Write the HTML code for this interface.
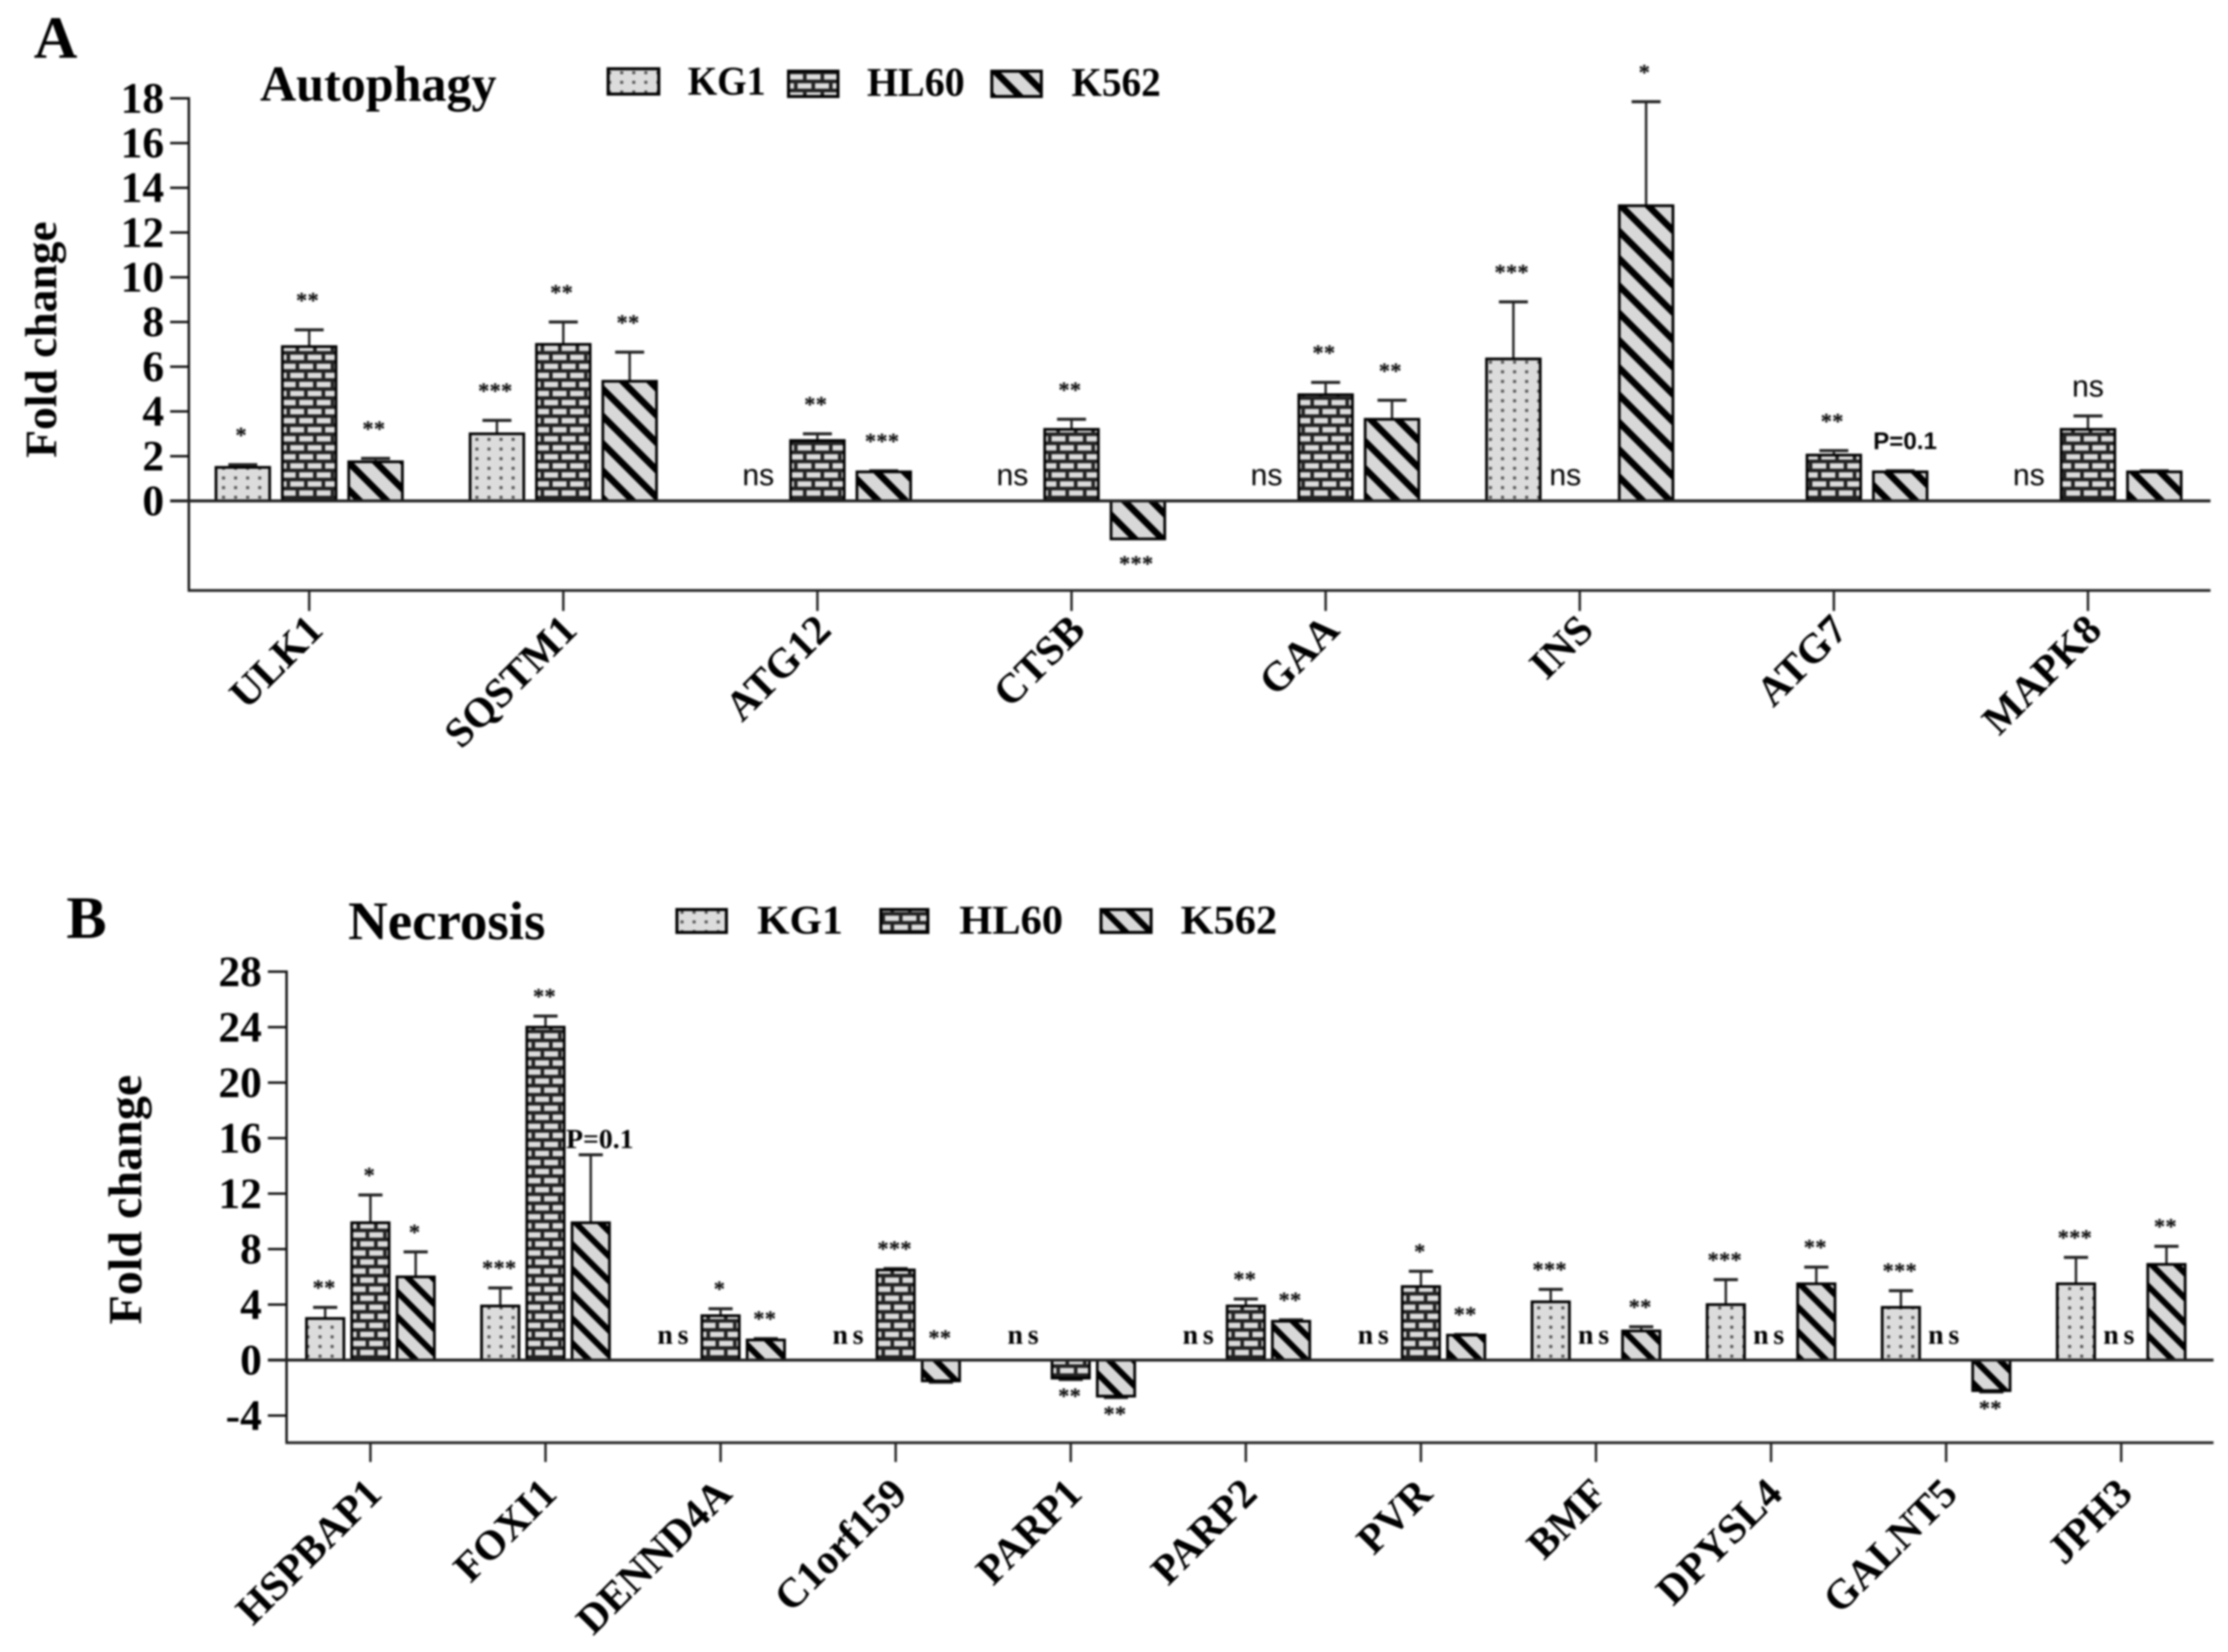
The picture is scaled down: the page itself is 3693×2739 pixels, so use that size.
<!DOCTYPE html>
<html lang="en">
<head>
<meta charset="utf-8">
<title>Autophagy and Necrosis fold change</title>
<style>
html,body{margin:0;padding:0;background:#fff;width:3693px;height:2739px;overflow:hidden}
svg{display:block;filter:blur(1.5px)}
text{font-family:"Liberation Serif",serif;font-weight:bold;fill:#000}
.sans{font-family:"Liberation Sans",sans-serif}
</style>
</head>
<body>
<svg id="figure" xmlns="http://www.w3.org/2000/svg" width="3693" height="2739" viewBox="0 0 3693 2739">
<defs>
<pattern id="dots" width="20" height="16" patternUnits="userSpaceOnUse">
<rect width="20" height="16" fill="#dcdcdc"/>
<rect x="8" y="6" width="5" height="5" fill="#555"/>
</pattern>
<pattern id="brick" width="29" height="30" patternUnits="userSpaceOnUse">
<rect width="29" height="30" fill="#222"/>
<rect x="3" y="3" width="23" height="9" fill="#dcdcdc"/>
<rect x="0" y="18" width="11" height="9" fill="#dcdcdc"/>
<rect x="17" y="18" width="12" height="9" fill="#dcdcdc"/>
</pattern>
<pattern id="stripeA" width="32" height="32" patternUnits="userSpaceOnUse" patternTransform="rotate(45)">
<rect width="32" height="32" fill="#d8d8d8"/>
<rect x="0" y="0" width="32" height="11" fill="#000"/>
</pattern>
<pattern id="stripeB" width="29" height="29" patternUnits="userSpaceOnUse" patternTransform="rotate(45)">
<rect width="29" height="29" fill="#d8d8d8"/>
<rect x="0" y="0" width="29" height="10" fill="#000"/>
</pattern>
</defs>
<rect width="3693" height="2739" fill="#fff"/>

<text x="56" y="96" font-size="100">A</text>
<text x="431" y="167" font-size="84" textLength="392" lengthAdjust="spacingAndGlyphs">Autophagy</text>
<text x="93" y="955" transform="rotate(-90 93 563)" font-size="74"><tspan x="93" y="563" text-anchor="middle" textLength="392" lengthAdjust="spacingAndGlyphs">Fold change</tspan></text>

<rect x="1008" y="114" width="84" height="42" fill="url(#dots)" stroke="#000" stroke-width="5"/>
<text x="1140" y="157" font-size="68" textLength="129" lengthAdjust="spacingAndGlyphs">KG1</text>
<rect x="1307" y="118" width="82" height="42" fill="url(#brick)" stroke="#000" stroke-width="5"/>
<text x="1437" y="159" font-size="68" textLength="162" lengthAdjust="spacingAndGlyphs">HL60</text>
<rect x="1644" y="118" width="82" height="42" fill="url(#stripeA)" stroke="#000" stroke-width="5"/>
<text x="1776" y="159" font-size="68" textLength="148" lengthAdjust="spacingAndGlyphs">K562</text>

<text x="110" y="1555" font-size="100">B</text>
<text x="577" y="1557" font-size="90" textLength="327" lengthAdjust="spacingAndGlyphs">Necrosis</text>
<text font-size="78" transform="rotate(-90 234 1989)"><tspan x="234" y="1989" text-anchor="middle" textLength="414" lengthAdjust="spacingAndGlyphs">Fold change</tspan></text>

<rect x="1122" y="1508" width="82" height="38" fill="url(#dots)" stroke="#000" stroke-width="5"/>
<text x="1255" y="1548" font-size="68" textLength="142" lengthAdjust="spacingAndGlyphs">KG1</text>
<rect x="1460" y="1508" width="78" height="38" fill="url(#brick)" stroke="#000" stroke-width="5"/>
<text x="1590" y="1548" font-size="68" textLength="172" lengthAdjust="spacingAndGlyphs">HL60</text>
<rect x="1825" y="1508" width="83" height="38" fill="url(#stripeB)" stroke="#000" stroke-width="5"/>
<text x="1957" y="1548" font-size="68" textLength="160" lengthAdjust="spacingAndGlyphs">K562</text>
</svg>

<script>
// Panel A data
const genesA = ['ULK1','SQSTM1','ATG12','CTSB','GAA','INS','ATG7','MAPK8'];
const ticksA = [0,2,4,6,8,10,12,14,16,18];
const kg1A  = [1.5,3.0,null,null,null,6.35,null,null];
const hl60A = [6.9,7.0,2.7,3.2,4.75,null,2.05,3.2];
const k562A = [1.75,5.35,1.3,-1.7,3.65,13.2,1.3,1.3];
const kg1ErrA  = [0.12,0.6,0,0,0,2.55,0,0];
const hl60ErrA = [0.75,1.0,0.3,0.45,0.55,0,0.2,0.6];
const k562ErrA = [0.15,1.3,0.05,0,0.85,4.65,0.05,0.05];
const kg1SigA  = ['*','***','ns','ns','ns','***','',  'ns'];
const hl60SigA = ['**','**','**','**','**','ns','**','ns'];
const k562SigA = ['**','**','***','***','**','*','P=0.1',''];

// Panel B data
const genesB = ['HSPBAP1','FOXI1','DENND4A','C1orf159','PARP1','PARP2','PVR','BMF','DPYSL4','GALNT5','JPH3'];
const ticksB = [-4,0,4,8,12,16,20,24,28];
const kg1B  = [3.0,3.9,null,null,null,null,null,4.2,4.0,3.8,5.5];
const hl60B = [9.9,24.0,3.2,6.5,-1.3,3.9,5.3,null,null,null,null];
const k562B = [6.0,9.9,1.45,-1.5,-2.6,2.8,1.8,2.1,5.5,-2.2,6.9];
const kg1ErrB  = [0.8,1.3,0,0,0,0,0,0.9,1.8,1.2,1.9];
const hl60ErrB = [2.0,0.8,0.5,0.1,0.1,0.5,1.1,0,0,0,0];
const k562ErrB = [1.8,4.9,0.1,0.1,0.1,0.1,0.05,0.3,1.2,0.1,1.3];
const kg1SigB  = ['**','***','ns','ns','ns','ns','ns','***','***','***','***'];
const hl60SigB = ['*','**','*','***','**','**','*','ns','ns','ns','ns'];
const k562SigB = ['*','P=0.1','**','^**','**','**','**','**','**','**','**'];

const NS = 'http://www.w3.org/2000/svg';
const svg = document.getElementById('figure');

function mk(tag, attrs, parent){
  const el = document.createElementNS(NS, tag);
  for (const k in attrs) el.setAttribute(k, attrs[k]);
  parent.appendChild(el);
  return el;
}

function drawPanel(cfg){
  const g = mk('g', {}, svg);
  
  
  const y = v => cfg.y0 - v * cfg.unit;
  const x = i => cfg.x0 + i * cfg.step;

  // y axis + ticks
  const yAxis = mk('line', {x1:cfg.axisX, x2:cfg.axisX, y1:y(cfg.ticks[cfg.ticks.length-1])-2, y2:cfg.bottom+2, stroke:'#111', 'stroke-width':4}, g);
  
  
  cfg.ticks.forEach(t => {
    const tk = mk('line', {x1:cfg.axisX-cfg.tickLen, x2:cfg.axisX, y1:y(t), y2:y(t), stroke:'#111', 'stroke-width':4}, g);
    
    
    const lb = mk('text', {x:cfg.axisX-cfg.tickLen-10, y:y(t)+cfg.tickFont*0.33, 'text-anchor':'end', 'font-size':cfg.tickFont}, g);
    lb.textContent = String(t);
    
    
  });

  // bars
  const slots = [
    {key:'kg1',  vals:cfg.kg1,  errs:cfg.kg1Err,  sig:cfg.kg1Sig,  off:-cfg.offset, fill:'url(#dots)',  nsShift:cfg.nsShift},
    {key:'hl60', vals:cfg.hl60, errs:cfg.hl60Err, sig:cfg.hl60Sig, off:0,           fill:'url(#brick)', nsShift:cfg.nsMidShift},
    {key:'k562', vals:cfg.k562, errs:cfg.k562Err, sig:cfg.k562Sig, off:cfg.offset,  fill:cfg.stripe,    nsShift:0}
  ];
  slots.forEach(s => {
    cfg.genes.forEach((gene, i) => {
      const cx = x(i) + s.off;
      const v = s.vals[i];
      const e = s.errs[i];
      if (v !== null) {
        const tipV = v >= 0 ? v + e : v - e;
        if (e > 0) {
          const st = mk('line', {x1:cx, x2:cx, y1:y(v), y2:y(tipV), stroke:'#222', 'stroke-width':4}, g);
          
          
          const cap = mk('line', {x1:cx-cfg.cap, x2:cx+cfg.cap, y1:y(tipV), y2:y(tipV), stroke:'#222', 'stroke-width':5}, g);
          
          
        }
        const top = Math.min(y(v), y(0));
        const h = Math.abs(y(v) - y(0));
        const bar = mk('rect', {x:cx-cfg.barW/2, y:top, width:cfg.barW, height:h, fill:s.fill, stroke:'#000', 'stroke-width':4.5}, g);
        
        
      }
      const label = s.sig[i];
      if (!label) return;
      const tipVal = v === null ? 0 : (v >= 0 ? v + e : v - e);
      let t;
      if (label === 'ns') {
        const ly = v === null ? y(0) - cfg.nsLift : y(tipVal) - cfg.nsTopLift;
        t = mk('text', {x:cx + (v === null ? s.nsShift : 0), y:ly, 'text-anchor':'middle', 'font-size':cfg.nsFont, 'letter-spacing':cfg.nsSpace, 'class':cfg.nsClass, style:'font-weight:' + cfg.nsWeight}, g);
        t.textContent = 'ns';
      } else if (label === 'P=0.1') {
        t = mk('text', {x:cx + cfg.pShift, y:y(tipVal) - cfg.pLift, 'text-anchor':'middle', 'font-size':cfg.pFont, 'class':cfg.pClass}, g);
        t.textContent = label;
      } else {
        const up = label.charAt(0) === '^';
        const txt = up ? label.slice(1) : label;
        let cy;
        if (up) cy = y(0) - cfg.starBaseLift;
        else if (v < 0) cy = y(tipVal) + cfg.starBelow;
        else cy = y(tipVal) - cfg.starGap;
        t = mk('text', {x:cx + cfg.starShift, y:cy + cfg.starFont*0.36, 'text-anchor':'middle', 'font-size':cfg.starFont}, g);
        t.textContent = txt;
      }
      
      
    });
  });

  // zero line + x axis + ticks
  const zero = mk('line', {x1:cfg.axisX-cfg.tickLen, x2:cfg.right, y1:y(0), y2:y(0), stroke:'#222', 'stroke-width':5}, g);
  
  
  const xAxis = mk('line', {x1:cfg.axisX-2, x2:cfg.right, y1:cfg.bottom, y2:cfg.bottom, stroke:'#222', 'stroke-width':4.5}, g);
  
  
  cfg.genes.forEach((gene, i) => {
    const tk = mk('line', {x1:x(i), x2:x(i), y1:cfg.bottom, y2:cfg.bottom+cfg.xTick, stroke:'#222', 'stroke-width':4}, g);
    
    
    const lx = x(i) + cfg.labelDx, ly = cfg.bottom + cfg.labelDy;
    const lb = mk('text', {x:lx, y:ly, 'text-anchor':'end', 'font-size':cfg.labelFont, transform:'rotate(-45 ' + lx + ' ' + ly + ')'}, g);
    lb.textContent = gene;
    
    
  });
}

drawPanel({
  name:'autophagy-chart', genes:genesA, ticks:ticksA,
  kg1:kg1A, hl60:hl60A, k562:k562A, kg1Err:kg1ErrA, hl60Err:hl60ErrA, k562Err:k562ErrA,
  kg1Sig:kg1SigA, hl60Sig:hl60SigA, k562Sig:k562SigA,
  y0:830.5, unit:37.08, x0:512.5, step:421.2, axisX:313, tickLen:31, tickFont:72,
  bottom:979, right:3664, xTick:34, offset:110, barW:89, cap:24, stripe:'url(#stripeA)',
  nsLift:26, nsTopLift:32, nsShift:12, nsMidShift:-24, nsFont:50, nsSpace:0, nsClass:'sans', nsWeight:'normal',
  pShift:8, pLift:36, pFont:40, pClass:'sans',
  starFont:38, starGap:50, starBelow:40, starBaseLift:40, starShift:-3,
  labelDx:26, labelDy:69, labelFont:69
});

drawPanel({
  name:'necrosis-chart', genes:genesB, ticks:ticksB,
  kg1:kg1B, hl60:hl60B, k562:k562B, kg1Err:kg1ErrB, hl60Err:hl60ErrB, k562Err:k562ErrB,
  kg1Sig:kg1SigB, hl60Sig:hl60SigB, k562Sig:k562SigB,
  y0:2255, unit:23, x0:614, step:290.2, axisX:475, tickLen:31, tickFont:72,
  bottom:2392, right:3669, xTick:32, offset:75, barW:62, cap:20, stripe:'url(#stripeB)',
  nsLift:27, nsTopLift:60, nsShift:0, nsMidShift:0, nsFont:46, nsSpace:8, nsClass:'', nsWeight:'bold',
  pShift:15, pLift:11, pFont:46, pClass:'',
  starFont:38, starGap:34, starBelow:26, starBaseLift:38, starShift:-2,
  labelDx:22, labelDy:88, labelFont:69
});
</script>
</body>
</html>
